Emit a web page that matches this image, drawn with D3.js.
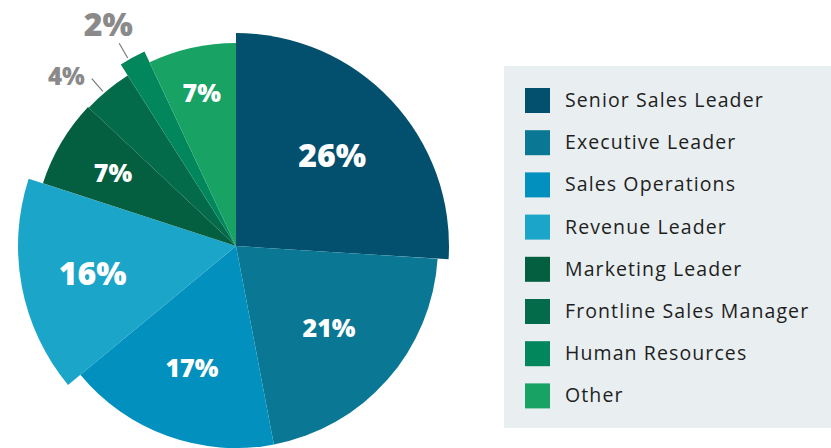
<!DOCTYPE html>
<html>
<head>
<meta charset="utf-8">
<script src="https://cdn.jsdelivr.net/npm/d3@7"></script>
<style>
  body { margin: 0; background: #fff; }
  svg { display: block; }
</style>
</head>
<body>
<div id="chart"></div>
<script>
// data
var categories = ["Senior Sales Leader", "Executive Leader", "Sales Operations", "Revenue Leader",
    "Marketing Leader", "Frontline Sales Manager", "Human Resources", "Other"];
var values = [26, 21, 17, 16, 7, 4, 2, 7];
var colors = ["#03506e", "#0a7895", "#0291be", "#1ba5c9", "#035f3f", "#036b4a", "#02865c", "#18a264"];

// styling per slice (some slices pulled out a bit)
var outerR = [213, 202, 202, 218, 203, 202, 215, 203];
var labelR = [132, 124, 130, 146, 143, 240, 256, 157];
var labelShift = [0, 0, 0, 0, 0, -0.094, -0.02, 0]; // radians
var labelSize = [32, 25, 25, 32, 25, 24, 32, 25];
var outside = [false, false, false, false, false, true, true, false];

var width = 831, height = 448;
var cx = 236, cy = 246;

var svg = d3.select("#chart").append("svg")
    .attr("width", width)
    .attr("height", height);

var pie = d3.pie().sort(null).value(function(d) { return d; });
var arcs = pie(values);

var g = svg.append("g")
    .attr("transform", "translate(" + cx + "," + cy + ")");

g.selectAll("path")
    .data(arcs)
    .enter().append("path")
    .attr("fill", function(d, i) { return colors[i]; })
    .attr("d", function(d, i) {
        return d3.arc().innerRadius(0).outerRadius(outerR[i])(d);
    });

function pt(angle, r) {
    return [Math.sin(angle) * r, -Math.cos(angle) * r];
}

// leader lines for small slices
g.selectAll("line.leader")
    .data(arcs.filter(function(d, i) { return outside[i]; }))
    .enter().append("line")
    .attr("class", "leader")
    .attr("stroke", "#7a7a7a")
    .attr("stroke-width", 1.2)
    .each(function(d) {
        var i = d.index;
        var a = (d.startAngle + d.endAngle) / 2 - 0.02;
        var p1 = pt(a, outerR[i] + 2);
        var p2 = pt(a, outerR[i] + 19);
        d3.select(this).attr("x1", p1[0]).attr("y1", p1[1]).attr("x2", p2[0]).attr("y2", p2[1]);
    });

g.selectAll("text.pct")
    .data(arcs)
    .enter().append("text")
    .attr("class", "pct")
    .attr("text-anchor", "middle")
    .attr("dy", "0.36em")
    .style("font-family", "'Open Sans', Lato, sans-serif")
    .style("font-weight", 800)
    .style("font-size", function(d, i) { return labelSize[i] + "px"; })
    .attr("fill", function(d, i) { return outside[i] ? "#8a8a8a" : "#ffffff"; })
    .attr("transform", function(d, i) {
        var a = (d.startAngle + d.endAngle) / 2 + labelShift[i];
        var p = pt(a, labelR[i]);
        return "translate(" + p[0] + "," + p[1] + ")";
    })
    .text(function(d) { return d.value + "%"; });

// legend
var legend = svg.append("g").attr("transform", "translate(504,66)");
legend.append("rect")
    .attr("width", 327)
    .attr("height", 362)
    .attr("fill", "#e9eef1");

var items = legend.selectAll("g.item")
    .data(categories)
    .enter().append("g")
    .attr("class", "item")
    .attr("transform", function(d, i) { return "translate(21," + (22 + i * 42.2) + ")"; });

items.append("rect")
    .attr("width", 25)
    .attr("height", 25)
    .attr("fill", function(d, i) { return colors[i]; });

items.append("text")
    .attr("x", 40)
    .attr("y", 19)
    .style("font-family", "'Open Sans', Lato, sans-serif")
    .style("font-size", "19.5px")
    .style("letter-spacing", "1.1px")
    .attr("fill", "#1e1e1e")
    .text(function(d) { return d; });
</script>
</body>
</html>
